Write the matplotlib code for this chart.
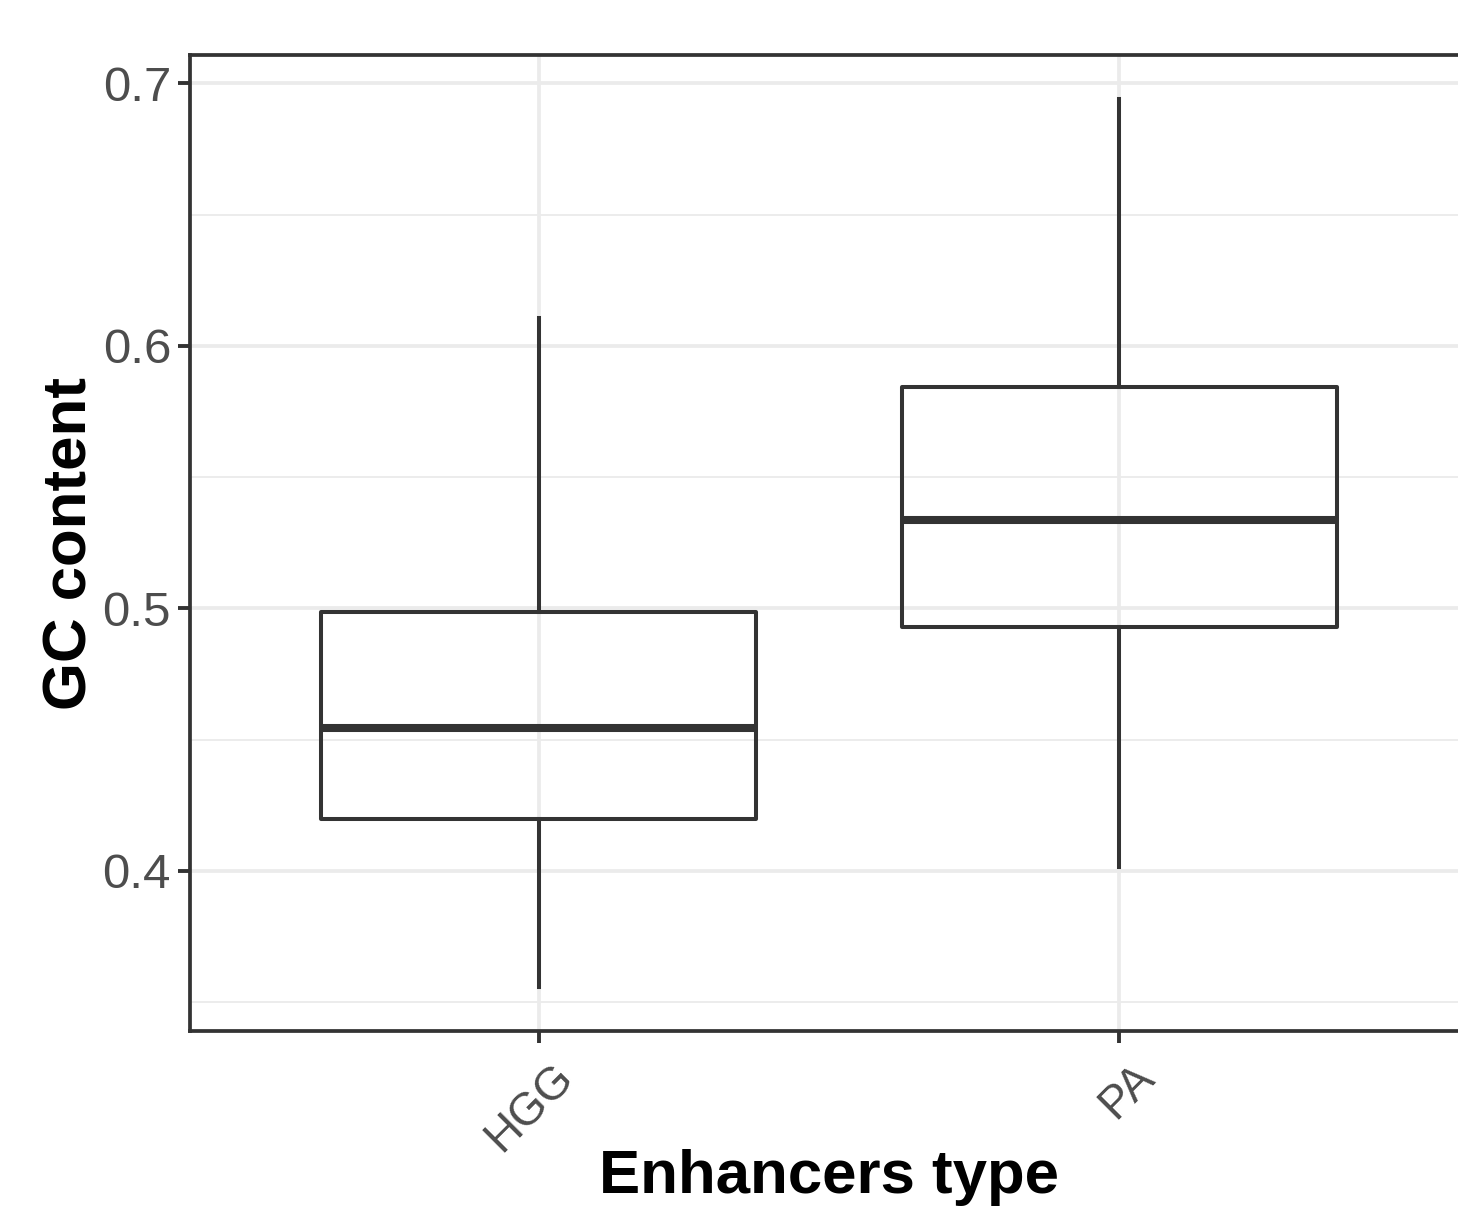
import matplotlib
matplotlib.use("Agg")
import matplotlib.pyplot as plt
from matplotlib.ticker import FixedLocator

# Box statistics per enhancer type
categories = ["HGG", "PA"]
whisker_low = [0.3559, 0.4015]
q1 = [0.4198, 0.4928]
median = [0.4544, 0.5338]
q3 = [0.4985, 0.5844]
whisker_high = [0.6106, 0.6939]

y_ticks = [0.4, 0.5, 0.6, 0.7]
y_minor = [0.35, 0.45, 0.55, 0.65]

plt.rcParams["font.family"] = ["Liberation Sans", "DejaVu Sans"]

W, H = 1458, 1206
fig = plt.figure(figsize=(W / 100, H / 100), dpi=100)
left, right, top, bottom = 190, 1468, 55, 1031
ax = fig.add_axes([left / W, (H - bottom) / H, (right - left) / W, (bottom - top) / H])

dark = "#333333"
grid = "#EBEBEB"
label_grey = "#4D4D4D"

stats = []
for i, c in enumerate(categories):
    stats.append(dict(label=c, whislo=whisker_low[i], q1=q1[i], med=median[i],
                      q3=q3[i], whishi=whisker_high[i], fliers=[]))
positions = list(range(1, len(categories) + 1))
ax.bxp(stats, positions=positions, widths=0.75, showcaps=False, showfliers=False,
       patch_artist=True,
       boxprops=dict(facecolor="none", edgecolor=dark, linewidth=2.9, joinstyle="round"),
       whiskerprops=dict(color=dark, linewidth=2.9),
       medianprops=dict(color=dark, linewidth=5.8, solid_capstyle="butt"),
       zorder=3)

span = max(whisker_high) - min(whisker_low)
ax.set_ylim(min(whisker_low) - 0.05 * span, max(whisker_high) + 0.05 * span)
ax.set_xlim(0.4, len(categories) + 0.6)

ax.yaxis.set_major_locator(FixedLocator(y_ticks))
ax.yaxis.set_minor_locator(FixedLocator(y_minor))
ax.set_yticklabels([f"{v:.1f}" for v in y_ticks])
ax.set_xticks(positions)
ax.set_xticklabels([])

# Rotated category labels hung from the tick positions
for x, c in zip(positions, categories):
    ax.annotate(c, xy=(x, 0), xycoords=ax.get_xaxis_transform(),
                xytext=(9.0, -17.5), textcoords="offset points",
                rotation=45, ha="right", va="top", rotation_mode="anchor",
                fontsize=33, color=label_grey, annotation_clip=False)

ax.set_axisbelow(True)
ax.grid(which="major", color=grid, linewidth=2.7, zorder=0)
ax.grid(which="minor", axis="y", color=grid, linewidth=1.35, zorder=0)

ax.tick_params(which="major", length=8.6, width=2.8, color=dark,
               labelcolor=label_grey)
ax.tick_params(axis="y", pad=5, labelsize=35.5)
ax.tick_params(which="minor", length=0)

for s in ax.spines.values():
    s.set_color(dark)
    s.set_linewidth(2.7)

ax.set_ylabel("GC content", fontsize=44.5, fontweight="bold", color="black")
ax.set_xlabel("Enhancers type", fontsize=44.5, fontweight="bold", color="black")
ax.yaxis.set_label_coords(-0.071, 0.5)
ax.xaxis.set_label_coords(0.5, -0.121)

fig.savefig("out.png", dpi=100)
